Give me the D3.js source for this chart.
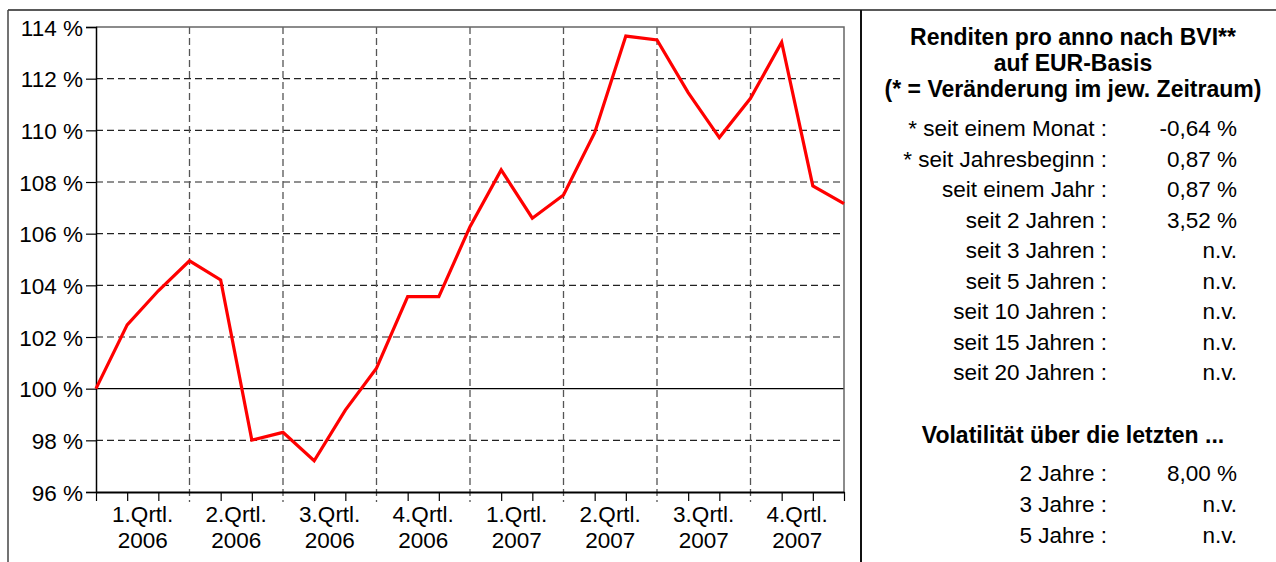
<!DOCTYPE html>
<html>
<head>
<meta charset="utf-8">
<script src="https://d3js.org/d3.v7.min.js"></script>
<style>
  body { margin: 0; background: #fff; }
  svg text { font-family: "Liberation Sans", Arial, sans-serif; fill: #000; }
</style>
</head>
<body>
<svg id="chart" width="1276" height="562"></svg>
<script>
// monthly index values, start of 2006 = 100
var values = [100, 102.47, 103.79, 104.95, 104.21, 98.01, 98.31, 97.21, 99.17,
              100.79, 103.56, 103.56, 106.27, 108.47, 106.6, 107.5, 109.91,
              113.65, 113.5, 111.46, 109.72, 111.24, 113.41, 107.85, 107.16];
var quarters = ['1.Qrtl.', '2.Qrtl.', '3.Qrtl.', '4.Qrtl.', '1.Qrtl.', '2.Qrtl.', '3.Qrtl.', '4.Qrtl.'];
var years = ['2006', '2006', '2006', '2006', '2007', '2007', '2007', '2007'];
var yTicks = [96, 98, 100, 102, 104, 106, 108, 110, 112, 114];

var returnLabels = ['* seit einem Monat :', '* seit Jahresbeginn :', 'seit einem Jahr :', 'seit 2 Jahren :',
                    'seit 3 Jahren :', 'seit 5 Jahren :', 'seit 10 Jahren :', 'seit 15 Jahren :', 'seit 20 Jahren :'];
var returnValues = ['-0,64 %', '0,87 %', '0,87 %', '3,52 %', 'n.v.', 'n.v.', 'n.v.', 'n.v.', 'n.v.'];
var volLabels = ['2 Jahre :', '3 Jahre :', '5 Jahre :'];
var volValues = ['8,00 %', 'n.v.', 'n.v.'];

var fs = '22.5px';
var svg = d3.select('#chart');

var x = d3.scaleLinear().domain([0, 24]).range([96, 844]);
var y = d3.scaleLinear().domain([96, 114]).range([492, 27]);

// outer frame
svg.append('line').attr('x1', 8).attr('x2', 1276).attr('y1', 10).attr('y2', 10)
  .attr('stroke', '#222').attr('stroke-width', 1.5);
svg.append('line').attr('x1', 8).attr('x2', 8).attr('y1', 10).attr('y2', 562)
  .attr('stroke', '#444').attr('stroke-width', 1.5);
svg.append('line').attr('x1', 861).attr('x2', 861).attr('y1', 10).attr('y2', 562)
  .attr('stroke', '#111').attr('stroke-width', 2);

// horizontal grid
svg.selectAll('.hgrid')
  .data(yTicks.filter(function(d) { return d > 96 && d < 114; }))
  .enter().append('line')
  .attr('x1', x(0)).attr('x2', x(24))
  .attr('y1', function(d) { return y(d); })
  .attr('y2', function(d) { return y(d); })
  .attr('stroke', function(d) { return d === 100 ? '#000' : '#222'; })
  .attr('stroke-width', 1.2)
  .attr('stroke-dasharray', function(d) { return d === 100 ? null : '7,4'; });

// vertical grid at quarter boundaries (runs past the axis a little)
svg.selectAll('.vgrid')
  .data(d3.range(3, 24, 3))
  .enter().append('line')
  .attr('x1', function(d) { return x(d); })
  .attr('x2', function(d) { return x(d); })
  .attr('y1', y(114)).attr('y2', y(96) + 10)
  .attr('stroke', '#555').attr('stroke-width', 1.3)
  .attr('stroke-dasharray', '7,4');

// plot border top/right
svg.append('path')
  .attr('d', 'M' + x(0) + ',' + y(114) + 'H' + x(24) + 'V' + y(96))
  .attr('fill', 'none').attr('stroke', '#666').attr('stroke-width', 1.5);

// y axis
var yAxis = d3.axisLeft(y).tickValues(yTicks).tickSize(10).tickPadding(3)
  .tickFormat(function(d) { return d + ' %'; });
var gy = svg.append('g').attr('transform', 'translate(' + x(0) + ',0)').call(yAxis);
gy.select('.domain').attr('stroke', '#000').attr('stroke-width', 1.5);
gy.selectAll('.tick line').attr('stroke', '#000').attr('stroke-width', 1.2);
gy.selectAll('text').style('font-size', fs).attr('dy', '0.36em');

// x axis: monthly ticks
var xAxis = d3.axisBottom(x)
  .tickValues(d3.range(0, 25).filter(function(d) { return d % 3 !== 0 || d === 0 || d === 24; }))
  .tickSize(9).tickSizeOuter(0).tickFormat('');
var gx = svg.append('g').attr('transform', 'translate(0,' + y(96) + ')').call(xAxis);
gx.select('.domain').attr('stroke', '#000').attr('stroke-width', 2.2);
gx.selectAll('.tick line').attr('stroke', '#000').attr('stroke-width', 1.2);

// quarter labels
var ql = svg.selectAll('.qlab')
  .data(quarters)
  .enter().append('text')
  .attr('text-anchor', 'middle')
  .style('font-size', fs)
  .attr('x', function(d, i) { return x(i * 3 + 1.5); });
ql.append('tspan').attr('x', function(d, i) { return x(i * 3 + 1.5); }).attr('y', 522)
  .text(function(d) { return d; });
ql.append('tspan').attr('x', function(d, i) { return x(i * 3 + 1.5); }).attr('y', 548)
  .text(function(d, i) { return years[i]; });

// line
var line = d3.line()
  .x(function(d, i) { return x(i); })
  .y(function(d) { return y(d); });
svg.append('path').datum(values)
  .attr('d', line)
  .attr('fill', 'none')
  .attr('stroke', '#ff0000')
  .attr('stroke-width', 3.2)
  .attr('stroke-linejoin', 'miter');

// right panel
var cx = 1073;
var title = ['Renditen pro anno nach BVI**', 'auf EUR-Basis', '(* = Veränderung im jew. Zeitraum)'];
svg.selectAll('.title')
  .data(title)
  .enter().append('text')
  .attr('x', cx)
  .attr('y', function(d, i) { return 45 + i * 26; })
  .attr('text-anchor', 'middle')
  .style('font-size', '23px')
  .style('font-weight', 'bold')
  .text(function(d) { return d; });

var labX = 1107, valX = 1237;
var rows = svg.selectAll('.row')
  .data(returnLabels)
  .enter().append('g')
  .attr('transform', function(d, i) { return 'translate(0,' + (136 + i * 30.5) + ')'; });
rows.append('text').attr('x', labX).attr('text-anchor', 'end').style('font-size', fs)
  .text(function(d) { return d; });
rows.append('text').attr('x', valX).attr('text-anchor', 'end').style('font-size', fs)
  .text(function(d, i) { return returnValues[i]; });

svg.append('text')
  .attr('x', cx).attr('y', 443)
  .attr('text-anchor', 'middle')
  .style('font-size', '23px')
  .style('font-weight', 'bold')
  .text('Volatilität über die letzten ...');

var vrows = svg.selectAll('.vrow')
  .data(volLabels)
  .enter().append('g')
  .attr('transform', function(d, i) { return 'translate(0,' + (481 + i * 31) + ')'; });
vrows.append('text').attr('x', labX).attr('text-anchor', 'end').style('font-size', fs)
  .text(function(d) { return d; });
vrows.append('text').attr('x', valX).attr('text-anchor', 'end').style('font-size', fs)
  .text(function(d, i) { return volValues[i]; });
</script>
</body>
</html>
